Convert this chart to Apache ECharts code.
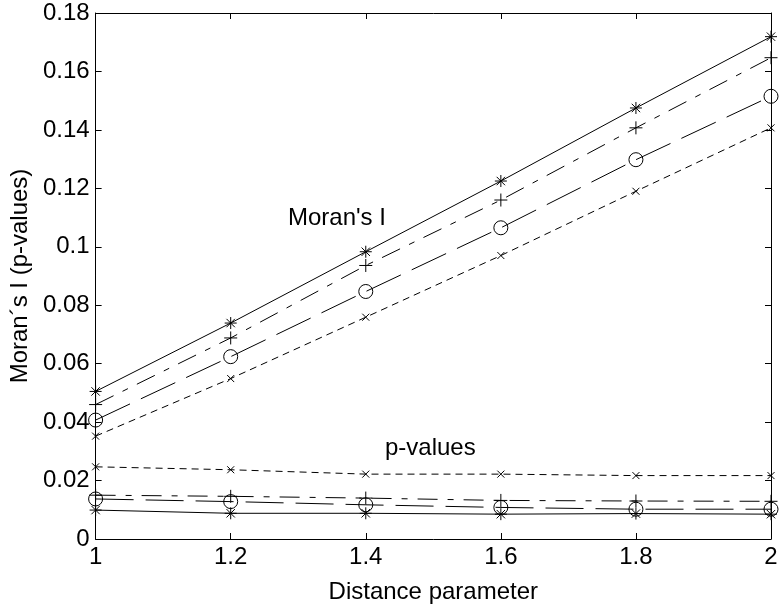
<!DOCTYPE html>
<html>
<head>
<meta charset="utf-8">
<script src="https://cdn.jsdelivr.net/npm/echarts@6/dist/echarts.min.js"></script>
<style>
html,body{margin:0;padding:0;background:#fff;}
#chart{width:781px;height:609px;}
</style>
</head>
<body>
<div id="chart"></div>
<script>
// ---- data ----
var distance = [1, 1.2, 1.4, 1.6, 1.8, 2];

// Moran's I
var moranStar   = [0.0505, 0.0739, 0.0983, 0.1225, 0.1475, 0.1719];
var moranPlus   = [0.0460, 0.0688, 0.0936, 0.1160, 0.1407, 0.1647];
var moranCircle = [0.0407, 0.0624, 0.0847, 0.1065, 0.1298, 0.1515];
var moranCross  = [0.0352, 0.0549, 0.0759, 0.0970, 0.1190, 0.1407];

// p-values
var pStar   = [0.0099, 0.0088, 0.0088, 0.0085, 0.0087, 0.0085];
var pPlus   = [0.0150, 0.0146, 0.0140, 0.0132, 0.0130, 0.0129];
var pCircle = [0.0137, 0.0128, 0.0117, 0.0108, 0.0102, 0.0102];
var pCross  = [0.0247, 0.0237, 0.0222, 0.0222, 0.0217, 0.0217];

var xTitle = 'Distance parameter';
var yTitle = 'Moran\u00b4s I (p-values)';
var note1 = "Moran's I";
var note2 = 'p-values';

// ---- styles ----
var FONT = "'Liberation Sans', Arial, sans-serif";
var SYM_STAR  = 'path://M0,5L10,5M5,0L5,10M1.5,1.5L8.5,8.5M8.5,1.5L1.5,8.5';
var SYM_PLUS  = 'path://M0,5L10,5M5,0L5,10';
var SYM_CROSS = 'path://M0,0L10,10M10,0L0,10';

function pairs(ys){ return distance.map(function(x,i){ return [x, ys[i]]; }); }

function mkSeries(ys, symbol, size, dash){
  return {
    type: 'line',
    data: pairs(ys),
    symbol: symbol,
    symbolSize: size,
    symbolKeepAspect: true,
    showAllSymbol: true,
    animation: false,
    lineStyle: {color: '#000', width: 1, type: dash},
    itemStyle: {color: 'transparent', borderColor: '#000', borderWidth: 1},
    emphasis: {disabled: true}
  };
}

var axisCommon = {
  axisLine: {show: true, onZero: false, lineStyle: {color: '#000', width: 1}},
  axisTick: {show: true, inside: true, length: 6, lineStyle: {color: '#000', width: 1}},
  splitLine: {show: false}
};

var chart = echarts.init(document.getElementById('chart'), null, {renderer: 'canvas'});
chart.setOption({
  backgroundColor: '#fff',
  animation: false,
  grid: {left: 94, right: 10, top: 13, bottom: 63, containLabel: false},
  xAxis: [
    Object.assign({
      type: 'value', min: 1, max: 2, interval: 0.2, position: 'bottom',
      name: xTitle, nameLocation: 'middle', nameGap: 41,
      nameTextStyle: {fontFamily: FONT, fontSize: 24, color: '#000'},
      axisLabel: {fontFamily: FONT, fontSize: 24, color: '#000', margin: 6}
    }, axisCommon),
    Object.assign({
      type: 'value', min: 1, max: 2, interval: 0.2, position: 'top',
      axisLabel: {show: false}
    }, axisCommon)
  ],
  yAxis: [
    Object.assign({
      type: 'value', min: 0, max: 0.18, interval: 0.02, position: 'left',
      name: yTitle, nameLocation: 'middle', nameGap: 62,
      nameTextStyle: {fontFamily: FONT, fontSize: 24, color: '#000'},
      axisLabel: {fontFamily: FONT, fontSize: 24, color: '#000', margin: 6}
    }, axisCommon),
    Object.assign({
      type: 'value', min: 0, max: 0.18, interval: 0.02, position: 'right',
      axisLabel: {show: false}
    }, axisCommon)
  ],
  series: [
    mkSeries(moranStar, SYM_STAR, 12, 'solid'),
    mkSeries(moranPlus, SYM_PLUS, 13, [20, 10, 6, 10]),
    mkSeries(moranCircle, 'circle', 14, [38, 12]),
    mkSeries(moranCross, SYM_CROSS, 7, [7, 5]),
    mkSeries(pStar, SYM_STAR, 12, 'solid'),
    mkSeries(pPlus, SYM_PLUS, 13, [20, 10, 6, 10]),
    mkSeries(pCircle, 'circle', 14, [38, 12]),
    mkSeries(pCross, SYM_CROSS, 7, [7, 5])
  ],
  graphic: [
    {type: 'text', x: 288, y: 218, silent: true,
     style: {text: note1, font: '24px ' + FONT, fill: '#000', textAlign: 'left', textVerticalAlign: 'middle'}},
    {type: 'text', x: 385, y: 448, silent: true,
     style: {text: note2, font: '24px ' + FONT, fill: '#000', textAlign: 'left', textVerticalAlign: 'middle'}}
  ]
});
</script>
</body>
</html>
